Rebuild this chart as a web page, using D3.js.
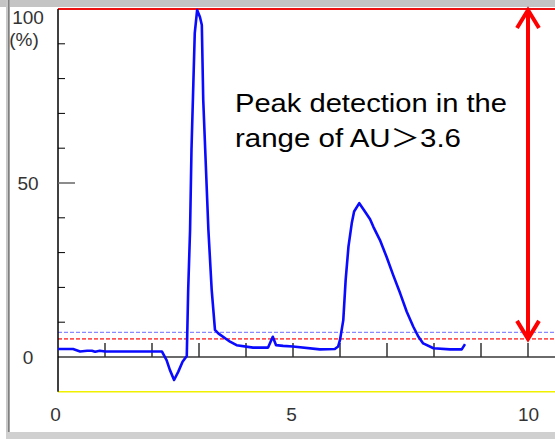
<!DOCTYPE html>
<html>
<head>
<meta charset="utf-8">
<script src="https://cdn.jsdelivr.net/npm/d3@7"></script>
<style>
  html, body { margin: 0; padding: 0; background: #fff; }
  svg { display: block; }
  text { font-family: "Liberation Sans", Arial, sans-serif; }
</style>
</head>
<body>
<svg id="chart" width="555" height="439"></svg>
<script>
// ---- data ----
const timeMin = [0, 0.32, 0.47, 0.62, 0.72, 0.79, 0.89, 1.0, 2.21, 2.31, 2.38, 2.47, 2.56, 2.65, 2.74, 2.77, 2.81, 2.84, 2.88, 2.91, 2.96, 3.02, 3.06, 3.09, 3.2, 3.27, 3.34, 3.41, 3.66, 3.8, 4.15, 4.47, 4.57, 4.64, 4.79, 5.0, 5.57, 5.89, 5.96, 6.0, 6.07, 6.12, 6.18, 6.25, 6.30, 6.41, 6.53, 6.64, 6.71, 6.85, 6.99, 7.13, 7.28, 7.42, 7.56, 7.67, 7.77, 7.99, 8.34, 8.59, 8.66];
const signalPct = [2.3, 2.3, 1.6, 1.8, 1.8, 1.5, 1.8, 1.6, 1.6, -0.9, -3.7, -6.6, -4.2, -1.35, 0.3, 19.3, 36.5, 59.5, 78.7, 93.1, 99.7, 97.7, 95.4, 73.9, 36.5, 19.3, 7.8, 6.8, 4.4, 3.4, 2.7, 2.7, 5.8, 3.4, 3.2, 3.0, 2.2, 2.3, 3.0, 4.9, 10.6, 22.1, 31.7, 38.4, 41.8, 44.2, 41.8, 39.6, 37.4, 33.6, 28.8, 23.6, 18.3, 13.0, 8.7, 5.8, 3.9, 2.5, 2.2, 2.2, 3.7];
const xTickLabels = [0, 5, 10];
const xTickMarks = [1, 2, 3, 4, 5, 6, 7, 8, 9, 10];
const yTickLabels = [0, 50, 100];
const yMinorTicks = [10, 20, 30, 40, 60, 70, 80, 90];
const yMajorTicks = [50];
const thresholdRed = 5.2;
const thresholdBlue = 7.1;
const lowerLimit = -10;
const topLimit = 100;
const annotation1 = "Peak detection in the";
const annotation2 = ["range of AU", "\uFF1E", "3.6"];

// ---- drawing ----
const svg = d3.select("#chart");
const W = 555, H = 439;
const x = d3.scaleLinear().domain([0, 10]).range([58, 528]);
const y = d3.scaleLinear().domain([0, 100]).range([357, 9]);

// window frame
svg.append("rect").attr("x", 0).attr("y", 0).attr("width", W).attr("height", 7).attr("fill", "#c4c4c4");
svg.append("rect").attr("x", 6).attr("y", 0).attr("width", 4).attr("height", H).attr("fill", "#c8c8c8");
svg.append("rect").attr("x", 8).attr("y", 0).attr("width", 1.5).attr("height", H).attr("fill", "#808080");
svg.append("rect").attr("x", 6).attr("y", 432).attr("width", W - 6).attr("height", 7).attr("fill", "#d0d0d0");

const x0 = x(0), xEnd = W;

// yellow lower line
svg.append("line").attr("x1", x0).attr("x2", xEnd).attr("y1", y(lowerLimit)).attr("y2", y(lowerLimit))
  .attr("stroke", "#f0f000").attr("stroke-width", 1.5);

// threshold dashed lines
svg.append("line").attr("x1", x0).attr("x2", xEnd).attr("y1", y(thresholdBlue)).attr("y2", y(thresholdBlue))
  .attr("stroke", "#8a8aff").attr("stroke-width", 1.2).attr("stroke-dasharray", "4,2");
svg.append("line").attr("x1", x0).attr("x2", xEnd).attr("y1", y(thresholdRed)).attr("y2", y(thresholdRed))
  .attr("stroke", "#ff5555").attr("stroke-width", 1.8).attr("stroke-dasharray", "4,2");

// baseline (0 %)
svg.append("line").attr("x1", x0).attr("x2", xEnd).attr("y1", y(0)).attr("y2", y(0))
  .attr("stroke", "#6a6a6a").attr("stroke-width", 2);

// x tick marks on baseline
svg.append("g").selectAll("line").data(xTickMarks).join("line")
  .attr("x1", d => x(d)).attr("x2", d => x(d))
  .attr("y1", y(0)).attr("y2", y(0) - 14)
  .attr("stroke", "#333").attr("stroke-width", 1.5);

// top red line (100 %)
svg.append("line").attr("x1", x0).attr("x2", xEnd).attr("y1", y(topLimit)).attr("y2", y(topLimit))
  .attr("stroke", "#ee1111").attr("stroke-width", 2);

// y axis line
svg.append("line").attr("x1", x0).attr("x2", x0).attr("y1", y(topLimit)).attr("y2", y(lowerLimit))
  .attr("stroke", "#000").attr("stroke-width", 1.5);

// y minor ticks
svg.append("g").selectAll("line").data(yMinorTicks).join("line")
  .attr("x1", x0).attr("x2", x0 + 7)
  .attr("y1", d => y(d)).attr("y2", d => y(d))
  .attr("stroke", "#000").attr("stroke-width", 1);
svg.append("g").selectAll("line").data(yMajorTicks).join("line")
  .attr("x1", x0).attr("x2", x0 + 17)
  .attr("y1", d => y(d)).attr("y2", d => y(d))
  .attr("stroke", "#666").attr("stroke-width", 1.5);

// y tick labels via d3 axis
const yAxis = d3.axisLeft(y).tickValues(yTickLabels).tickSize(0).tickPadding(0).tickFormat(d3.format("d"));
const yg = svg.append("g").attr("transform", "translate(28,0)").call(yAxis);
yg.select(".domain").remove();
yg.selectAll("text").attr("text-anchor", "middle").attr("font-size", 19).attr("fill", "#333")
  .attr("font-family", "Liberation Sans, Arial, sans-serif")
  .attr("dy", d => d === 100 ? "0.78em" : "0.32em");
svg.append("text").attr("x", 24).attr("y", 46).attr("text-anchor", "middle")
  .attr("font-size", 19).attr("fill", "#333").text("(%)");

// x tick labels via d3 axis
const xAxis = d3.axisBottom(x).tickValues(xTickLabels).tickSize(0).tickPadding(0).tickFormat(d3.format("d"));
const xg = svg.append("g").attr("transform", "translate(0,407)").call(xAxis);
xg.select(".domain").remove();
xg.selectAll("text").attr("font-size", 19).attr("fill", "#333")
  .attr("font-family", "Liberation Sans, Arial, sans-serif").attr("dy", "0.72em")
  .attr("dx", d => d === 0 ? -3 : (d === 5 ? -2 : 0));

// signal trace
const line = d3.line().x((d, i) => x(timeMin[i])).y((d, i) => y(signalPct[i]));
svg.append("path").datum(signalPct).attr("d", line)
  .attr("fill", "none").attr("stroke", "#0a0aff").attr("stroke-width", 2.6)
  .attr("stroke-linejoin", "round");

// red double arrow
const ax = x(10);
const yTop = y(topLimit) - 1, yBot = y(thresholdRed) + 2;
const ar = svg.append("g").attr("stroke", "#ff0000").attr("stroke-width", 4).attr("fill", "none").attr("stroke-linecap", "butt");
ar.append("line").attr("x1", ax).attr("x2", ax).attr("y1", yTop + 2).attr("y2", yBot - 2);
ar.append("path").attr("d", `M${ax - 11},${yTop + 20} L${ax},${yTop + 2} L${ax + 11},${yTop + 20}`);
ar.append("path").attr("d", `M${ax - 11},${yBot - 20} L${ax},${yBot - 2} L${ax + 11},${yBot - 20}`);

// annotation text
svg.append("text").attr("x", 235).attr("y", 112)
  .attr("font-size", 25).attr("fill", "#000")
  .attr("textLength", 272).attr("lengthAdjust", "spacingAndGlyphs")
  .text(annotation1);
const t2 = svg.append("text").attr("x", 235).attr("y", 147)
  .attr("font-size", 25).attr("fill", "#000")
  .attr("textLength", 226).attr("lengthAdjust", "spacingAndGlyphs");
t2.selectAll("tspan").data(annotation2).join("tspan")
  .attr("font-family", (d, i) => i === 1 ? "Noto Sans CJK JP" : null)
  .text(d => d);
</script>
</body>
</html>
